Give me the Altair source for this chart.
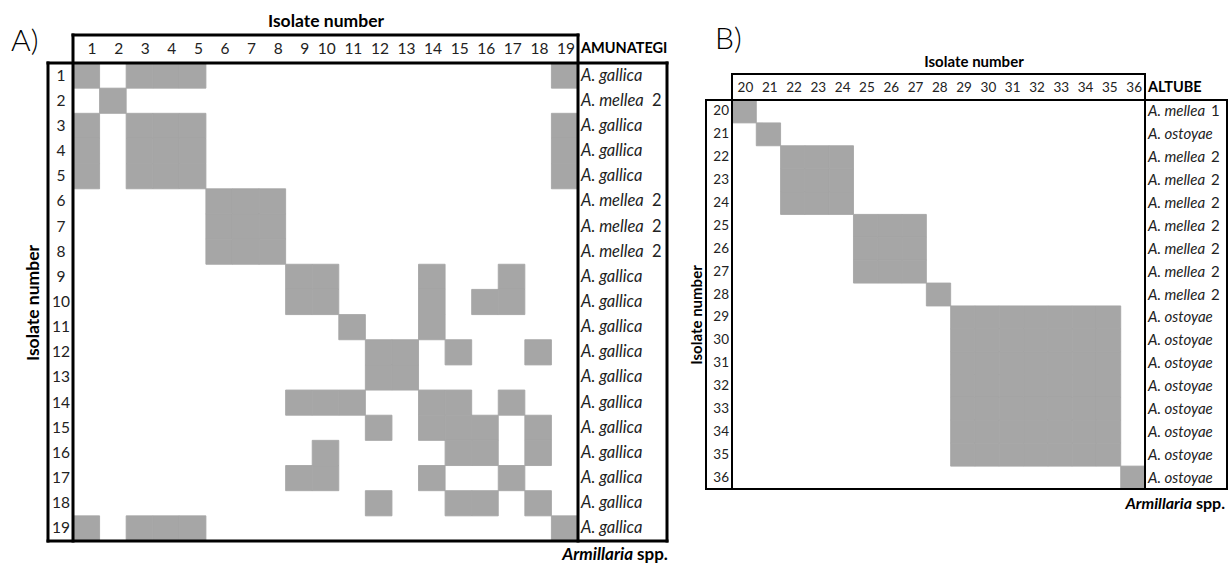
import altair as alt
import pandas as pd

FONT = "Lato"
GRAY = "#a6a6a6"

# ---------------- data ----------------
A_ids = list(range(1, 20))
A_species = ["A. gallica", "A. mellea", "A. gallica", "A. gallica", "A. gallica",
             "A. mellea", "A. mellea", "A. mellea", "A. gallica", "A. gallica",
             "A. gallica", "A. gallica", "A. gallica", "A. gallica", "A. gallica",
             "A. gallica", "A. gallica", "A. gallica", "A. gallica"]
A_suffix = ["", "2", "", "", "", "2", "2", "2", "", "", "", "", "", "", "", "", "", "", ""]
A_shaded = [
    [1, 3, 4, 5, 19],
    [2],
    [1, 3, 4, 5, 19],
    [1, 3, 4, 5, 19],
    [1, 3, 4, 5, 19],
    [6, 7, 8],
    [6, 7, 8],
    [6, 7, 8],
    [9, 10, 14, 17],
    [9, 10, 14, 16, 17],
    [11, 14],
    [12, 13, 15, 18],
    [12, 13],
    [9, 10, 11, 14, 15, 17],
    [12, 14, 15, 16, 18],
    [10, 15, 16, 18],
    [9, 10, 14, 17],
    [12, 15, 16, 18],
    [1, 3, 4, 5, 19],
]

B_ids = list(range(20, 37))
B_species = ["A. mellea", "A. ostoyae", "A. mellea", "A. mellea", "A. mellea",
             "A. mellea", "A. mellea", "A. mellea", "A. mellea", "A. ostoyae",
             "A. ostoyae", "A. ostoyae", "A. ostoyae", "A. ostoyae", "A. ostoyae",
             "A. ostoyae", "A. ostoyae"]
B_suffix = ["1", "", "2", "2", "2", "2", "2", "2", "2", "", "", "", "", "", "", "", ""]
B_group = [1, 2, 3, 3, 3, 4, 4, 4, 5, 6, 6, 6, 6, 6, 6, 6, 7]
B_shaded = [[c for c, g2 in zip(B_ids, B_group) if g2 == g] for g in B_group]


def make_panel(ids, shaded, species, suffix, site, letter, L):
    n = len(ids)
    first = ids[0]
    last = ids[-1]
    ux = (L["gr"] - L["gl"]) / n
    uy = (L["gb"] - L["gt"]) / n

    def X(px):
        return first - 0.5 + (px - L["gl"]) / ux

    def Y(py):
        return first - 0.5 + (py - L["gt"]) / uy

    xs = alt.Scale(domain=[X(0), X(L["W"])], nice=False, zero=False)
    ys = alt.Scale(domain=[Y(0), Y(L["H"])], nice=False, zero=False, reverse=True)

    def enc(**kw):
        d = dict(x=alt.X("x:Q", scale=xs, axis=None), y=alt.Y("y:Q", scale=ys, axis=None))
        d.update(kw)
        return d

    cells = pd.DataFrame(
        [dict(x=c - 0.5, x2=c + 0.5, y=r - 0.5, y2=r + 0.5)
         for r, cols in zip(ids, shaded) for c in cols]
    )
    rect = alt.Chart(cells).mark_rect(color=GRAY, stroke=GRAY, strokeWidth=0.9).encode(
        **enc(x2="x2:Q", y2="y2:Q"))

    hy = Y(L["head_y"])
    head = alt.Chart(pd.DataFrame({"x": [c + 0.5 for c in ids], "y": [hy] * n,
                                   "t": [str(c) for c in ids]})).mark_text(
        align="right", baseline="middle", dx=-3, font=FONT, fontSize=L["tick_fs"],
        color="#222").encode(**enc(text="t:N"))

    rowlab = alt.Chart(pd.DataFrame({"x": [X(L["row_x"])] * n, "y": ids,
                                     "t": [str(c) for c in ids]})).mark_text(
        align=L["row_align"], baseline="middle", font=FONT, fontSize=L["tick_fs"],
        color="#222").encode(**enc(text="t:N"))

    gx = last + 0.5
    sp = alt.Chart(pd.DataFrame({"x": [gx] * n, "y": ids, "t": species})).mark_text(
        align="left", baseline="middle", dx=3, font=FONT, fontStyle="italic",
        fontSize=L["sp_fs"], color="#222").encode(**enc(text="t:N"))
    sfx = alt.Chart(pd.DataFrame({"x": [gx] * n, "y": ids, "t": suffix})).mark_text(
        align="left", baseline="middle", dx=3 + L["sfx_dx"], font=FONT,
        fontSize=L["sp_fs"], color="#222").encode(**enc(text="t:N"))

    sitel = alt.Chart(pd.DataFrame({"x": [gx], "y": [hy], "t": [site]})).mark_text(
        align="left", baseline="middle", dx=3, font=FONT, fontWeight="bold",
        fontSize=L["site_fs"], color="black").encode(**enc(text="t:N"))

    top = alt.Chart(pd.DataFrame({"x": [X(L["top_x"])], "y": [Y(L["top_y"])],
                                  "t": ["Isolate number"]})).mark_text(
        align="center", baseline="middle", font=FONT, fontWeight="bold",
        fontSize=L["title_fs"], color="black").encode(**enc(text="t:N"))
    left = alt.Chart(pd.DataFrame({"x": [X(L["left_x"])], "y": [Y(L["left_y"])],
                                   "t": ["Isolate number"]})).mark_text(
        align="center", baseline="middle", angle=270, font=FONT, fontWeight="bold",
        fontSize=L["title_fs"], color="black").encode(**enc(text="t:N"))

    let = alt.Chart(pd.DataFrame({"x": [X(L["let_x"])], "y": [Y(L["let_y"])],
                                  "t": [letter]})).mark_text(
        align="left", baseline="middle", font=FONT, fontSize=30, fontWeight=300,
        color="black").encode(**enc(text="t:N"))

    arm_x, arm_y = X(L["arm_x"]), Y(L["arm_y"])
    arm1 = alt.Chart(pd.DataFrame({"x": [arm_x], "y": [arm_y], "t": ["Armillaria"]})).mark_text(
        align="right", baseline="middle", dx=-2, font=FONT, fontWeight="bold",
        fontStyle="italic", fontSize=L["arm_fs"], color="black").encode(**enc(text="t:N"))
    arm2 = alt.Chart(pd.DataFrame({"x": [arm_x], "y": [arm_y], "t": ["spp."]})).mark_text(
        align="left", baseline="middle", dx=2, font=FONT, fontWeight="bold",
        fontSize=L["arm_fs"], color="black").encode(**enc(text="t:N"))

    g0 = first - 0.5
    htop = Y(L["head_top"])
    lb = X(L["left_b"])
    rb = X(L["right_b"])
    segs = pd.DataFrame([
        dict(x=g0, x2=gx, y=htop, y2=htop),
        dict(x=g0, x2=g0, y=htop, y2=gx),
        dict(x=gx, x2=gx, y=htop, y2=gx),
        dict(x=lb, x2=rb, y=g0, y2=g0),
        dict(x=lb, x2=rb, y=gx, y2=gx),
        dict(x=lb, x2=lb, y=g0, y2=gx),
        dict(x=rb, x2=rb, y=g0, y2=gx),
    ])
    rules = alt.Chart(segs).mark_rule(color="black", strokeWidth=L["lw"],
                                      strokeCap="square").encode(
        **enc(x2="x2:Q", y2="y2:Q"))

    return alt.layer(rect, head, rowlab, sp, sfx, sitel, top, left, let,
                     arm1, arm2, rules).properties(width=L["W"], height=L["H"])


LA = dict(W=690, H=564, gl=73, gr=578, gt=63, gb=541,
          head_y=49, head_top=35, row_x=61, row_align="center",
          left_b=48, right_b=667, top_x=326, top_y=22, left_x=34, left_y=303,
          let_x=11, let_y=42, arm_x=635, arm_y=555,
          tick_fs=15.5, sp_fs=16.5, sfx_dx=71, site_fs=14.5, title_fs=17.5,
          arm_fs=17, lw=3)
# panel B coordinates are local to its own 541-px-wide region (starts at x=690)
LB = dict(W=541, H=564, gl=42, gr=455, gt=100, gb=489,
          head_y=88, head_top=74, row_x=39, row_align="right",
          left_b=16, right_b=537, top_x=284, top_y=62, left_x=7, left_y=315,
          let_x=25, let_y=40, arm_x=504, arm_y=504,
          tick_fs=13.5, sp_fs=15, sfx_dx=63, site_fs=14.5, title_fs=15,
          arm_fs=16, lw=2)

pA = make_panel(A_ids, A_shaded, A_species, A_suffix, "AMUNATEGI", "A)", LA)
pB = make_panel(B_ids, B_shaded, B_species, B_suffix, "ALTUBE", "B)", LB)

chart = alt.hconcat(pA, pB, spacing=0, bounds="flush").properties(
    padding=0, background="white", autosize=alt.AutoSizeParams(type="pad")
).configure_view(stroke="transparent", strokeWidth=0)

chart.save("out.html", embed_options={"renderer": "svg", "actions": False})
